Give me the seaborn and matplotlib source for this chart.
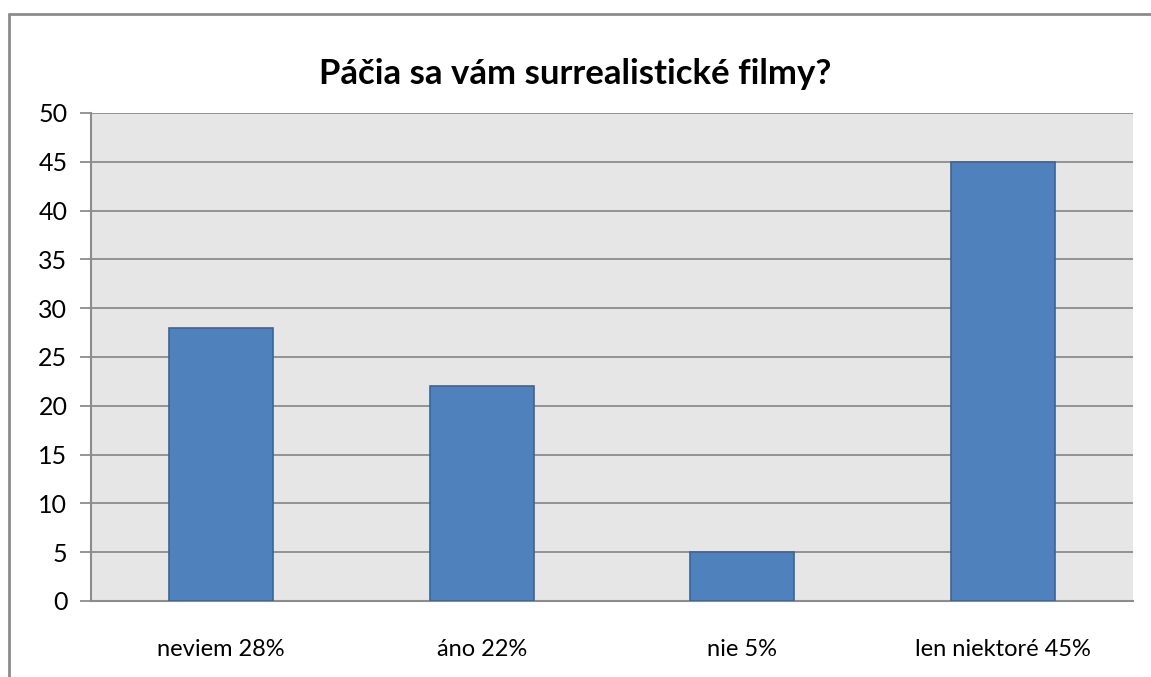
import matplotlib
matplotlib.use("Agg")
import matplotlib.pyplot as plt
import seaborn as sns
import pandas as pd
from matplotlib.lines import Line2D

# Survey answers and counts
categories = ["neviem 28%", "áno 22%", "nie 5%", "len niektoré 45%"]
values = [28, 22, 5, 45]
title = "Páčia sa vám surrealistické filmy?"
y_ticks = [0, 5, 10, 15, 20, 25, 30, 35, 40, 45, 50]

sns.set_theme(style="white")
plt.rcParams["font.family"] = ["Lato", "DejaVu Sans"]
plt.rcParams["text.color"] = "black"

df = pd.DataFrame({"answer": categories, "count": values})

fig = plt.figure(figsize=(11.51, 6.77), dpi=100)
ax = fig.add_axes([91 / 1151, 1 - 601 / 677, (1133 - 91) / 1151, (601 - 113) / 677])
ax.set_facecolor("#E6E6E6")

sns.barplot(data=df, x="answer", y="count", color="#4F81BD", width=0.4,
            edgecolor="#3A6597", linewidth=1.2, saturation=1, ax=ax, zorder=3)

ax.set_ylim(0, 50)
ax.set_xlim(-0.5, len(categories) - 0.5)
ax.set_yticks(y_ticks)
ax.yaxis.grid(True, color="#8C8C8C", linewidth=1.3, zorder=0)
ax.set_axisbelow(True)

# category boundary ticks like Excel
ax.set_xticks([i - 0.5 for i in range(len(categories) + 1)], minor=True)
ax.tick_params(axis="x", which="major", length=0, pad=27, labelsize=17, colors="black")
ax.tick_params(axis="x", which="minor", length=8, width=1.3, color="#8C8C8C", direction="out")
ax.tick_params(axis="y", which="major", length=8, width=1.3, color="#8C8C8C", direction="out",
               labelsize=18, pad=9, left=True, labelcolor="black")
ax.set_xlabel("")
ax.set_ylabel("")

for side in ["top", "right"]:
    ax.spines[side].set_visible(False)
for side in ["left", "bottom"]:
    ax.spines[side].set_color("#8C8C8C")
    ax.spines[side].set_linewidth(1.5)

fig.text(0.5, 1 - 74 / 677, title, ha="center", va="center", fontsize=25,
         fontweight="bold", color="black")

# outer chart border (top and left visible)
fig.add_artist(Line2D([9 / 1151, 1.0], [1 - 14 / 677] * 2, transform=fig.transFigure, color="#8C8C8C", linewidth=2))
fig.add_artist(Line2D([9 / 1151] * 2, [0.0, 1 - 14 / 677], transform=fig.transFigure, color="#8C8C8C", linewidth=2))

fig.savefig("out.png", dpi=100, facecolor="white")
